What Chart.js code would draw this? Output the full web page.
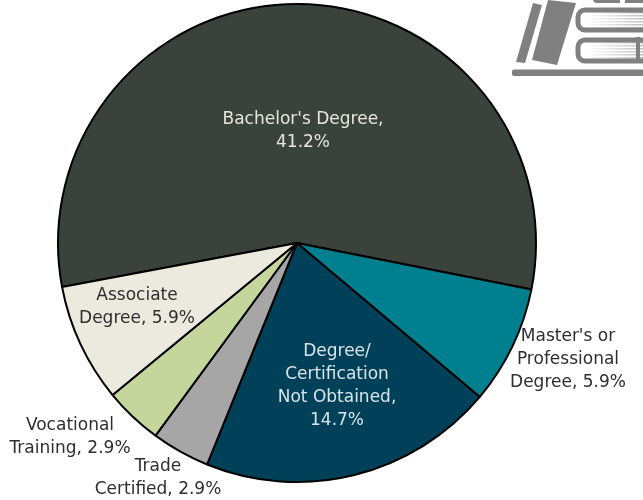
<!DOCTYPE html>
<html>
<head>
<meta charset="utf-8">
<style>
  html, body { margin: 0; padding: 0; background: #fff; }
  #wrap { width: 643px; height: 500px; }
</style>
</head>
<body>
<div id="wrap"><canvas id="eduPie" width="643" height="500"></canvas></div>
<script src="https://cdn.jsdelivr.net/npm/chart.js@4"></script>
<script>
const categories = [
  "Bachelor's Degree",
  "Master's or Professional Degree",
  "Degree/Certification Not Obtained",
  "Trade Certified",
  "Vocational Training",
  "Associate Degree"
];
const percents = [41.2, 5.9, 14.7, 2.9, 2.9, 5.9];
const sliceColors = ["#3a423c", "#00808f", "#004159", "#a6a6a6", "#c5d69d", "#eceadf"];

// how each label is wrapped in the picture
const labelLines = [
  ["Bachelor's Degree,", "41.2%"],
  ["Master's or", "Professional", "Degree, 5.9%"],
  ["Degree/", "Certification", "Not Obtained,", "14.7%"],
  ["Trade", "Certified, 2.9%"],
  ["Vocational", "Training, 2.9%"],
  ["Associate", "Degree, 5.9%"]
];
const labelColors = ["#e6e6e0", "#2e2e2e", "#d8e4e8", "#2e2e2e", "#2e2e2e", "#2e2e2e"];
const labelAnchors = [[303, 120], [568, 337], [337, 352], [158, 467], [70, 426], [137, 296]];
const LINE_HEIGHT = 23;

const sliceLabels = {
  id: "sliceLabels",
  afterDatasetsDraw(chart) {
    const ctx = chart.ctx;
    ctx.save();
    ctx.font = '17px "DejaVu Sans"';
    ctx.textAlign = "center";
    ctx.textBaseline = "middle";
    labelLines.forEach((lines, i) => {
      ctx.fillStyle = labelColors[i];
      lines.forEach((line, j) => {
        ctx.fillText(line, labelAnchors[i][0], labelAnchors[i][1] + j * LINE_HEIGHT);
      });
    });
    ctx.restore();
  }
};

// book logo in the top right corner, sits behind the pie
const bookLogo = {
  id: "bookLogo",
  beforeDatasetsDraw(chart) {
    const ctx = chart.ctx;
    const grey = "#808080";
    ctx.save();
    ctx.fillStyle = grey;
    [
      [[533, 3], [542, 5], [525, 63], [516, 62]],
      [[548, 0], [576, 3], [557, 65], [532, 60]]
    ].forEach((pts) => {
      ctx.beginPath();
      pts.forEach((p, i) => (i ? ctx.lineTo(p[0], p[1]) : ctx.moveTo(p[0], p[1])));
      ctx.closePath();
      ctx.fill();
    });
    ctx.beginPath();
    ctx.roundRect(512, 69.5, 140, 6.5, 2);
    ctx.fill();

    [[578, 10, 20], [578, 40, 21]].forEach((b) => {
      ctx.fillStyle = "#ffffff";
      ctx.strokeStyle = grey;
      ctx.lineWidth = 5;
      ctx.beginPath();
      ctx.roundRect(b[0], b[1], 90, b[2], 7);
      ctx.fill();
      ctx.stroke();
      // page edges fading in towards the right
      const grad = ctx.createLinearGradient(586, 0, 643, 0);
      grad.addColorStop(0, "rgba(128,128,128,0)");
      grad.addColorStop(1, "rgba(128,128,128,0.5)");
      ctx.fillStyle = grad;
      for (let y = b[1] + 2; y < b[1] + b[2] - 1; y += 3) {
        ctx.fillRect(586, y, 57, 1.5);
      }
    });
    ctx.fillStyle = grey;
    ctx.fillRect(636, 37, 4, 26);
    ctx.beginPath();
    ctx.roundRect(593, -6, 60, 9, 4);
    ctx.fill();
    ctx.fillStyle = "#ffffff";
    ctx.fillRect(620, 0, 5, 3);
    ctx.restore();
  }
};

new Chart(document.getElementById("eduPie"), {
  type: "pie",
  data: {
    labels: categories,
    datasets: [
      {
        data: percents,
        backgroundColor: sliceColors,
        borderColor: "#000000",
        borderWidth: 2
      }
    ]
  },
  options: {
    responsive: false,
    animation: false,
    rotation: 259.4,
    layout: { padding: { left: 57, right: 106, top: 3, bottom: 17 } },
    plugins: {
      legend: { display: false },
      tooltip: { enabled: false }
    }
  },
  plugins: [bookLogo, sliceLabels]
});
</script>
</body>
</html>
